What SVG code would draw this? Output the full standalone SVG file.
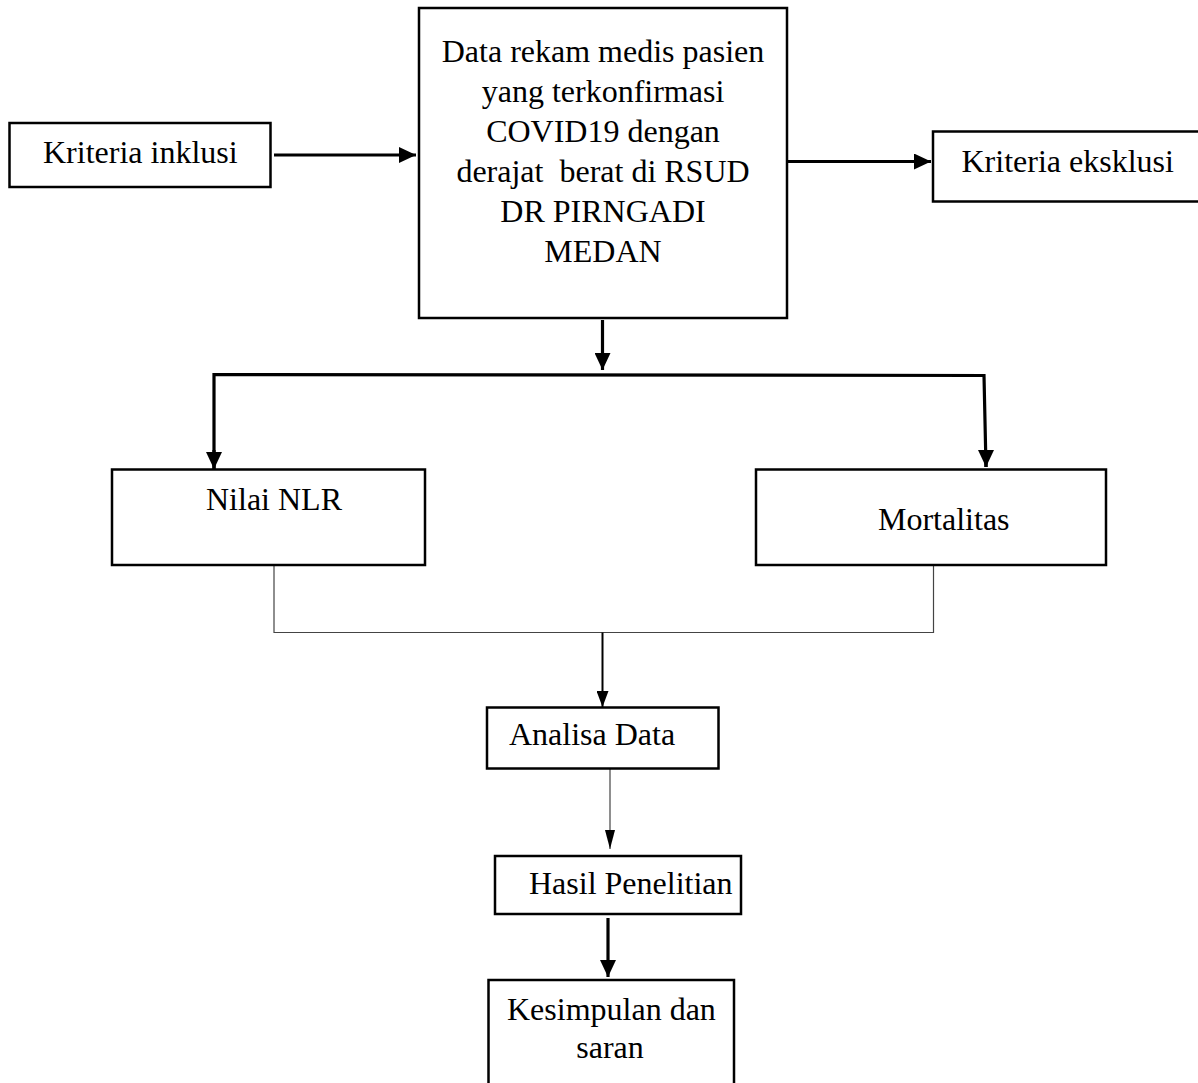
<svg xmlns="http://www.w3.org/2000/svg" width="1198" height="1083" viewBox="0 0 1198 1083">
<style>
.box{fill:#fff;stroke:#000;stroke-width:2.5}
.t{font-family:"Liberation Serif","Times New Roman",serif;font-size:32px;fill:#000;white-space:pre}
.c{text-anchor:middle}
.thick{stroke:#000;stroke-width:3.2;fill:none}
.med{stroke:#000;stroke-width:2;fill:none}
.thin{stroke:#444;stroke-width:1.2;fill:none}
</style>
<defs>
<marker id="ah" markerUnits="userSpaceOnUse" markerWidth="17" markerHeight="16" refX="17" refY="8" orient="auto">
<path d="M0,0 L17,8 L0,16 z" fill="#000"/>
</marker>
<marker id="ahs" markerUnits="userSpaceOnUse" markerWidth="16" markerHeight="12" refX="16" refY="6" orient="auto">
<path d="M0,0 L16,6 L0,12 z" fill="#000"/>
</marker>
<marker id="aht" markerUnits="userSpaceOnUse" markerWidth="19" markerHeight="10" refX="19" refY="5" orient="auto">
<path d="M0,0 L19,5 L0,10 z" fill="#000"/>
</marker>
</defs>

<g id="connectors">
<line class="thick" x1="274" y1="155" x2="416" y2="155" marker-end="url(#ah)"/>
<line class="thick" x1="788" y1="161.5" x2="931" y2="161.5" marker-end="url(#ah)"/>
<line class="thick" x1="602.5" y1="320" x2="602.5" y2="370" marker-end="url(#ah)"/>
<polyline class="thick" points="214,469 214,374.5 984,375.5 986,467" />
<line class="thick" x1="214" y1="450" x2="214" y2="469" marker-end="url(#ah)"/>
<line class="thick" x1="986" y1="450" x2="986" y2="467" marker-end="url(#ah)"/>
<polyline class="thin" points="274,565 274,632.5 933.5,632.5 933.5,565"/>
<line class="med" x1="602.5" y1="632.5" x2="602.5" y2="707" marker-end="url(#ahs)"/>
<line class="thin" x1="610" y1="768" x2="610" y2="849" marker-end="url(#aht)"/>
<line class="thick" x1="608" y1="918" x2="608" y2="977" marker-end="url(#ah)"/>
</g>

<g id="node-main">
<rect class="box" x="419" y="8" width="368" height="310"/>
<text class="t c" x="603" y="62">Data rekam medis pasien</text>
<text class="t c" x="603" y="102">yang terkonfirmasi</text>
<text class="t c" x="603" y="142">COVID19 dengan</text>
<text class="t c" x="603" y="182">derajat  berat di RSUD</text>
<text class="t c" x="603" y="222">DR PIRNGADI</text>
<text class="t c" x="603" y="262">MEDAN</text>
</g>

<g id="node-inklusi">
<rect class="box" x="9.5" y="123" width="261" height="64"/>
<text class="t" x="43" y="163">Kriteria inklusi</text>
</g>

<g id="node-eksklusi">
<rect class="box" x="933" y="131.5" width="270" height="70"/>
<text class="t" x="961.5" y="171.5">Kriteria eksklusi</text>
</g>

<g id="node-nlr">
<rect class="box" x="112" y="469.5" width="313" height="95.5"/>
<text class="t" x="206" y="510">Nilai NLR</text>
</g>

<g id="node-mortalitas">
<rect class="box" x="756" y="469.5" width="350" height="95.5"/>
<text class="t" x="878" y="530">Mortalitas</text>
</g>

<g id="node-analisa">
<rect class="box" x="487" y="707.5" width="231.5" height="61"/>
<text class="t" x="509" y="745">Analisa Data</text>
</g>

<g id="node-hasil">
<rect class="box" x="495" y="856" width="246" height="58"/>
<text class="t" x="529" y="894">Hasil Penelitian</text>
</g>

<g id="node-kesimpulan">
<rect class="box" x="488.5" y="980" width="245.5" height="120"/>
<text class="t" x="507" y="1020">Kesimpulan dan</text>
<text class="t c" x="610" y="1058">saran</text>
</g>
</svg>
